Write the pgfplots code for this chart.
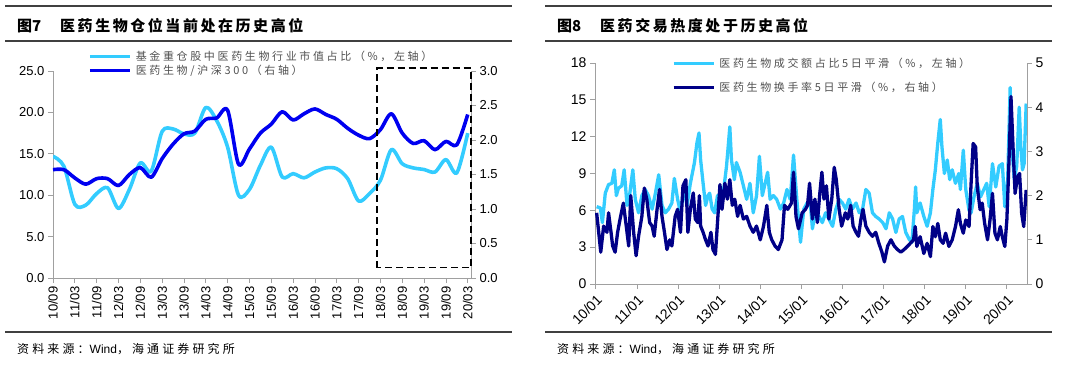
\documentclass[border=0pt]{standalone}
\usepackage{fontspec}
\setmainfont{Liberation Sans}
\newfontfamily\cjk{Noto Sans CJK SC}
\newfontfamily\cjkleg[LetterSpace=24]{Noto Sans CJK SC}
\newfontfamily\cjksrc[LetterSpace=26]{Noto Sans CJK SC}
\newfontfamily\cjktit[LetterSpace=17]{Noto Sans CJK SC}
\usepackage{pgfplots}
\pgfplotsset{compat=1.18}
\definecolor{lb}{RGB}{51,204,255}
\definecolor{db}{RGB}{0,0,240}
\definecolor{nv}{RGB}{0,0,135}
\definecolor{axg}{RGB}{160,160,160}
\definecolor{lg}{RGB}{80,80,80}
\definecolor{rule}{RGB}{64,64,64}
\pgfplotsset{
  base/.style={scale only axis, axis line style={axg, line width=0.8pt, -},
    tick style={axg, line width=0.8pt}, major tick length=5pt, tick align=outside,
    tick label style={black}, enlargelimits=false},
  leg/.style={legend style={draw=none, fill=none, inner sep=0pt, column sep=3pt,
    nodes={inner sep=1pt, text=lg}, font=\fontsize{11}{12}\selectfont\cjkleg},
    legend cell align=left,
    legend image code/.code={\draw[##1] (0pt,0pt) -- (40pt,0pt);}}
}
\begin{document}
\begin{tikzpicture}
\path[use as bounding box] (0pt,0pt) rectangle (1080pt,-368pt);
% rules and titles
\foreach \a/\b in {5/512,545/1052}{
  \draw[rule, line width=1.4pt] (\a pt,-6pt) -- (\b pt,-6pt);
  \draw[rule, line width=1.4pt] (\a pt,-41pt) -- (\b pt,-41pt);
  \draw[rule, line width=1.4pt] (\a pt,-332pt) -- (\b pt,-332pt);
}
\node[anchor=base west, inner sep=0pt] at (17pt,-31pt) {\fontsize{15}{16}\selectfont\cjk\bfseries 图7};
\node[anchor=base west, inner sep=0pt] at (60pt,-31pt) {\fontsize{15}{16}\selectfont\cjktit\bfseries 医药生物仓位当前处在历史高位};
\node[anchor=base west, inner sep=0pt] at (557pt,-31pt) {\fontsize{15}{16}\selectfont\cjk\bfseries 图8};
\node[anchor=base west, inner sep=0pt] at (600pt,-31pt) {\fontsize{15}{16}\selectfont\cjktit\bfseries 医药交易热度处于历史高位};
\node[anchor=base west, inner sep=0pt] at (17pt,-353pt) {\fontsize{12}{13}\selectfont{\cjksrc 资料来源：}Wind{\cjksrc ，海通证券研究所}};
\node[anchor=base west, inner sep=0pt] at (557pt,-353pt) {\fontsize{12}{13}\selectfont{\cjksrc 资料来源：}Wind{\cjksrc ，海通证券研究所}};

% ---------------- left chart ----------------
\begin{axis}[base, at={(53pt,-278pt)}, anchor=south west, width=418pt, height=207pt,
  xmin=0, xmax=38.3, ymin=0, ymax=25,
  axis x line*=bottom, axis y line*=left,
  ytick={0,5,10,15,20,25}, yticklabels={0.0,5.0,10.0,15.0,20.0,25.0},
  xtick={0,2,...,38},
  xticklabels={10/09,11/03,11/09,12/03,12/09,13/03,13/09,14/03,14/09,15/03,15/09,16/03,16/09,17/03,17/09,18/03,18/09,19/03,19/09,20/03},
  xticklabel style={rotate=90, anchor=east, font=\fontsize{13}{14}\selectfont},
  yticklabel style={font=\fontsize{13}{14}\selectfont}]
\addplot[lb, line width=3.6pt, smooth, line join=round] table {
0 14.7
1 13.5
2 8.9
3 8.8
4 10.2
5 10.9
6 8.4
7 10.7
8 13.9
9 12.9
10 17.7
11 18.0
12 17.4
13 17.5
14 20.6
15 19.0
16 15.8
17 10.0
18 10.7
19 13.6
20 15.8
21 12.2
22 12.6
23 12.1
24 12.8
25 13.3
26 13.2
27 12.0
28 9.3
29 10.2
30 11.8
31 15.5
32 13.8
33 13.3
34 13.1
35 12.8
36 14.3
37 12.7
38 17.5
};
\end{axis}
\begin{axis}[base, leg, at={(53pt,-278pt)}, anchor=south west, width=418pt, height=207pt,
  xmin=0, xmax=38.3, ymin=0, ymax=3, clip=false,
  axis x line=none, axis y line*=right,
  ytick={0,0.5,...,3}, yticklabels={0.0,0.5,1.0,1.5,2.0,2.5,3.0},
  yticklabel style={font=\fontsize{13}{14}\selectfont},
  legend style={at={(0.0837,1.036)}, anchor=west, row sep=1pt}]
\addlegendimage{lb, line width=3.6pt}
\addlegendentry{基金重仓股中医药生物行业市值占比（\%，左轴）}
\addplot[db, line width=3.6pt, smooth, line join=round] table {
0 1.57
1 1.57
2 1.45
3 1.36
4 1.44
5 1.44
6 1.34
7 1.50
8 1.60
9 1.46
10 1.73
11 1.94
12 2.09
13 2.13
14 2.30
15 2.32
16 2.43
17 1.65
18 1.87
19 2.10
20 2.23
21 2.41
22 2.29
23 2.38
24 2.45
25 2.37
26 2.30
27 2.17
28 2.07
29 2.02
30 2.15
31 2.38
32 2.10
33 1.95
34 1.99
35 1.86
36 1.98
37 1.93
38 2.37
};
\addlegendentry{医药生物/沪深300（右轴）}
\draw[black, line width=1.6pt, dash pattern=on 7pt off 4pt] (axis cs:29.7,0.15) rectangle (axis cs:38.3,3.04);
\end{axis}

% ---------------- right chart ----------------
\begin{axis}[base, at={(595pt,-284pt)}, anchor=south west, width=432pt, height=221pt,
  xmin=2009.98, xmax=2020.49, ymin=0, ymax=18,
  axis x line*=bottom, axis y line*=left,
  ytick={0,3,...,18}, yticklabels={0,3,6,9,12,15,18},
  xtick={2010,...,2020},
  xticklabels={10/01,11/01,12/01,13/01,14/01,15/01,16/01,17/01,18/01,19/01,20/01},
  xticklabel style={rotate=45, anchor=north east, font=\fontsize{14}{15}\selectfont},
  yticklabel style={font=\fontsize{14}{15}\selectfont}]
\addplot[lb, line width=3.3pt, line join=round] table {
2010.02 6.3
2010.11 6.2
2010.16 5.0
2010.23 7.4
2010.31 8.1
2010.39 8.2
2010.45 9.3
2010.50 7.2
2010.55 7.8
2010.63 8.0
2010.69 9.3
2010.76 6.4
2010.82 7.2
2010.90 9.3
2010.96 6.9
2011.04 5.8
2011.12 7.2
2011.20 7.7
2011.28 7.2
2011.37 6.1
2011.45 7.4
2011.53 8.9
2011.61 6.4
2011.69 5.8
2011.77 6.1
2011.85 6.6
2011.91 8.6
2011.99 6.9
2012.06 5.8
2012.14 7.7
2012.22 6.4
2012.30 8.2
2012.40 9.9
2012.46 11.5
2012.51 12.3
2012.55 10.1
2012.61 8.2
2012.67 6.4
2012.73 7.2
2012.77 7.4
2012.83 6.1
2012.89 5.8
2012.96 7.2
2013.02 6.9
2013.10 7.4
2013.18 9.6
2013.26 12.8
2013.30 10.1
2013.37 8.5
2013.42 9.9
2013.51 9.1
2013.59 8.0
2013.67 6.9
2013.75 8.2
2013.83 5.8
2013.91 7.2
2013.98 10.4
2014.05 7.2
2014.12 8.2
2014.18 9.1
2014.24 6.9
2014.32 7.2
2014.40 6.9
2014.49 6.1
2014.57 6.6
2014.65 7.7
2014.73 6.9
2014.81 10.5
2014.89 6.9
2014.98 3.4
2015.06 6.1
2015.14 6.6
2015.22 6.5
2015.27 4.5
2015.35 6.1
2015.43 5.5
2015.51 5.0
2015.59 5.8
2015.67 5.3
2015.76 4.7
2015.84 6.1
2015.92 6.9
2016.00 6.6
2016.08 6.1
2016.16 6.9
2016.24 6.1
2016.33 6.6
2016.41 5.8
2016.49 6.1
2016.57 7.7
2016.65 7.4
2016.73 5.8
2016.81 5.5
2016.89 5.3
2016.98 5.0
2017.06 4.5
2017.14 5.8
2017.22 5.3
2017.30 4.2
2017.38 5.3
2017.46 5.5
2017.54 4.2
2017.63 3.6
2017.69 3.4
2017.75 6.1
2017.78 7.9
2017.81 5.8
2017.89 6.6
2017.98 5.5
2018.06 4.7
2018.14 5.8
2018.20 7.7
2018.26 9.3
2018.32 11.5
2018.38 13.4
2018.42 11.2
2018.48 9.0
2018.55 10.1
2018.61 8.5
2018.67 9.3
2018.75 8.2
2018.83 9.0
2018.87 7.7
2018.94 10.9
2019.00 7.7
2019.08 6.0
2019.13 5.8
2019.20 7.1
2019.28 8.2
2019.36 7.1
2019.44 7.7
2019.51 8.2
2019.57 6.3
2019.65 9.8
2019.73 7.9
2019.81 9.6
2019.89 9.8
2019.95 6.3
2020.02 8.5
2020.08 16.0
2020.12 11.2
2020.18 8.5
2020.24 9.6
2020.30 14.4
2020.34 11.2
2020.38 9.3
2020.42 9.8
2020.47 14.7
};
\end{axis}
\begin{axis}[base, leg, at={(595pt,-284pt)}, anchor=south west, width=432pt, height=221pt,
  xmin=2009.98, xmax=2020.49, ymin=0, ymax=5,
  axis x line=none, axis y line*=right,
  ytick={0,1,...,5}, yticklabels={0,1,2,3,4,5},
  yticklabel style={font=\fontsize{14}{15}\selectfont},
  legend style={at={(0.178,0.9434)}, anchor=west, row sep=11pt}]
\addlegendimage{lb, line width=3.3pt}
\addlegendentry{医药生物成交额占比5日平滑（\%，左轴）}
\addplot[nv, line width=3.3pt, line join=round] table {
2010.02 1.61
2010.07 1.17
2010.12 0.72
2010.19 1.31
2010.27 1.17
2010.31 1.61
2010.37 1.17
2010.41 0.86
2010.47 0.72
2010.53 1.17
2010.59 1.47
2010.67 1.83
2010.74 1.31
2010.80 0.86
2010.85 2.00
2010.92 1.17
2010.98 0.64
2011.04 1.08
2011.12 1.53
2011.18 2.17
2011.24 1.92
2011.31 1.39
2011.37 1.31
2011.42 1.08
2011.49 1.69
2011.55 2.14
2011.61 1.53
2011.67 1.17
2011.73 0.78
2011.80 1.00
2011.85 0.86
2011.93 1.53
2011.99 1.69
2012.06 1.17
2012.12 2.22
2012.19 2.36
2012.24 1.17
2012.30 1.69
2012.37 2.06
2012.42 1.47
2012.48 1.39
2012.52 2.00
2012.55 1.31
2012.61 1.17
2012.67 1.00
2012.73 0.86
2012.80 1.17
2012.85 0.78
2012.91 0.67
2012.96 1.39
2013.02 2.25
2013.07 1.69
2013.14 2.28
2013.20 1.92
2013.26 2.36
2013.32 1.78
2013.38 1.92
2013.45 1.53
2013.51 1.78
2013.59 1.47
2013.67 1.53
2013.75 1.31
2013.83 1.17
2013.91 1.31
2014.00 1.00
2014.08 1.31
2014.16 1.78
2014.22 1.17
2014.28 1.00
2014.36 0.86
2014.44 0.78
2014.53 1.00
2014.59 1.78
2014.67 1.69
2014.76 1.83
2014.81 2.53
2014.87 1.53
2014.93 1.25
2015.02 1.61
2015.10 1.69
2015.15 1.78
2015.20 2.28
2015.27 1.47
2015.33 1.92
2015.39 1.39
2015.45 2.06
2015.50 2.53
2015.55 1.92
2015.61 2.22
2015.67 1.47
2015.74 1.92
2015.80 2.64
2015.85 2.36
2015.92 1.69
2015.98 1.31
2016.07 1.61
2016.13 1.47
2016.20 1.78
2016.26 1.31
2016.33 1.17
2016.39 1.08
2016.45 1.47
2016.50 1.69
2016.57 1.31
2016.65 1.17
2016.73 1.08
2016.81 1.17
2016.88 0.94
2016.96 0.72
2017.02 0.50
2017.10 0.86
2017.18 1.00
2017.26 0.86
2017.34 0.78
2017.42 0.72
2017.50 0.78
2017.59 0.86
2017.67 0.94
2017.73 1.00
2017.77 1.30
2017.81 0.85
2017.89 1.07
2017.98 0.69
2018.06 0.92
2018.14 0.62
2018.20 1.30
2018.26 1.07
2018.32 1.37
2018.38 1.00
2018.45 0.92
2018.51 1.15
2018.59 0.85
2018.67 1.00
2018.75 1.30
2018.82 1.68
2018.87 1.37
2018.94 1.15
2019.00 1.45
2019.08 1.30
2019.13 2.28
2019.18 3.18
2019.24 3.10
2019.28 2.20
2019.35 1.68
2019.40 1.83
2019.46 1.37
2019.53 1.00
2019.59 1.45
2019.65 2.05
2019.71 1.15
2019.77 1.00
2019.84 1.30
2019.89 1.07
2019.95 0.85
2020.00 1.45
2020.05 2.73
2020.10 4.24
2020.15 3.10
2020.20 2.05
2020.26 2.43
2020.31 2.50
2020.36 1.60
2020.41 1.30
2020.47 2.13
};
\addlegendentry{医药生物换手率5日平滑（\%，右轴）}
\end{axis}
\end{tikzpicture}
\end{document}
